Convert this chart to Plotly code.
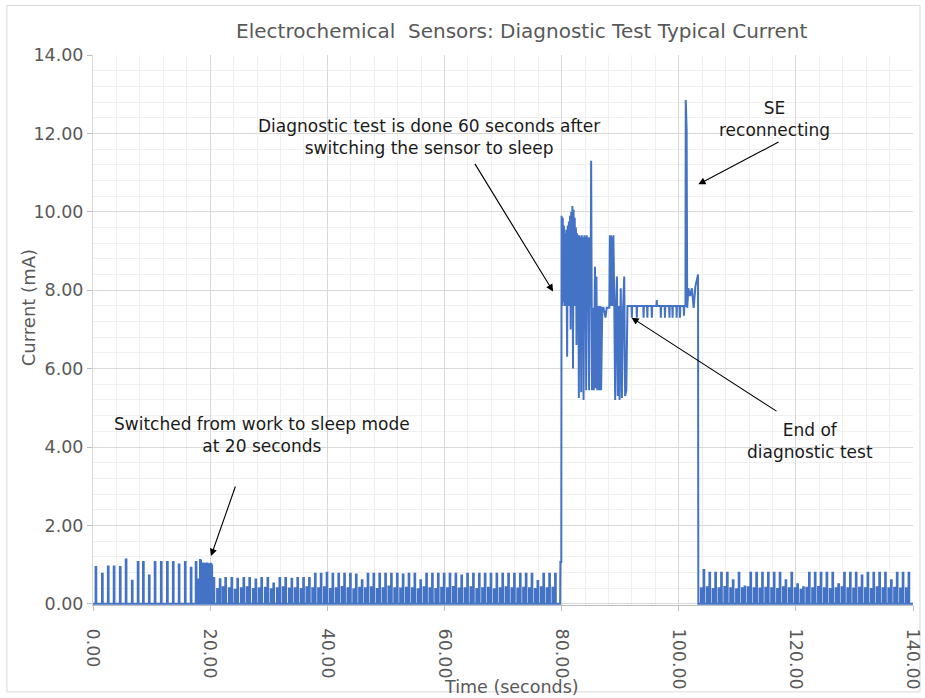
import plotly.graph_objects as go

BLUE = "#4472C4"
GREY = "#595959"
FONT = "DejaVu Sans"

# ---------------- data ----------------
# work mode spikes (0 - 17.5 s)
work_t = [0.5, 1.6, 2.6, 3.6, 4.65, 5.65, 6.7, 7.7, 8.6, 9.6, 10.6, 11.65, 12.7, 13.7, 14.7, 15.75, 16.75, 17.6]
work_h = [0.94, 0.77, 0.95, 0.95, 0.94, 1.13, 0.59, 1.07, 1.07, 0.72, 1.07, 1.07, 1.07, 1.07, 1.0, 1.07, 0.92, 1.07]

# switching burst (17.7 - 20.5 s)
burst_t = [17.8, 17.9, 18.0, 18.1, 18.2, 18.3, 18.4, 18.5, 18.6, 18.7, 18.8, 18.9, 19.0, 19.1,
           19.2, 19.3, 19.4, 19.5, 19.6, 19.7, 19.8, 19.9, 20.0, 20.1, 20.2, 20.3, 20.4]
burst_h = [0.62, 0.6, 0.58, 0.62, 0.6, 1.12, 1.1, 0.95, 1.02, 1.0, 1.03, 0.98, 1.01, 1.0,
           1.02, 0.99, 1.0, 1.03, 1.0, 0.98, 1.01, 1.0, 0.99, 1.02, 1.0, 0.98, 0.6]

# sleep mode pulses before the diagnostic test (tall pulse times, tall and short heights)
sleep1_t = [20.65, 21.7, 22.65, 23.7, 24.7, 25.75, 26.75, 27.8, 28.8, 29.85, 30.85, 31.9, 32.9,
            33.95, 34.95, 35.95, 36.95, 37.95, 38.95, 39.95, 40.95, 41.95, 42.95, 43.95, 44.95,
            45.95, 46.95, 47.95, 48.95, 49.95, 50.95, 51.95, 52.95, 53.95, 54.95, 55.95, 56.95,
            57.95, 58.95, 59.95, 60.95, 61.95, 62.95, 63.95, 64.95, 65.95, 66.95, 67.95, 68.95,
            69.95, 70.95, 71.95, 72.95, 73.95, 74.95, 75.95, 76.95, 77.95, 78.95]
sleep1_tall = [0.66, 0.63, 0.66, 0.66, 0.64, 0.66, 0.66, 0.62, 0.66, 0.66, 0.52, 0.66, 0.66,
               0.64, 0.66, 0.66, 0.66, 0.77,
               0.77, 0.79, 0.77, 0.77, 0.77, 0.77, 0.75, 0.60,
               0.77, 0.77, 0.77, 0.77, 0.77, 0.77, 0.75, 0.77, 0.77, 0.60,
               0.77, 0.77, 0.77, 0.77, 0.77, 0.77, 0.72,
               0.77, 0.77, 0.77, 0.77, 0.77, 0.77, 0.77, 0.77, 0.77, 0.77, 0.77, 0.77,
               0.58, 0.77, 0.77, 0.77]
sleep1_short = [0.40, 0.38, 0.42, 0.40, 0.36, 0.40, 0.42, 0.38, 0.40, 0.41, 0.37, 0.40, 0.42,
                0.39, 0.40, 0.38, 0.42, 0.40, 0.40, 0.42, 0.38, 0.40, 0.43, 0.40, 0.37, 0.41,
                0.40, 0.42, 0.38, 0.40, 0.44, 0.40, 0.39, 0.41, 0.40, 0.37, 0.42, 0.40, 0.38,
                0.41, 0.40, 0.43, 0.39, 0.40, 0.42, 0.38, 0.40, 0.41, 0.37, 0.40, 0.42, 0.40,
                0.39, 0.41, 0.40, 0.38, 0.42, 0.40, 0.41]

# diagnostic test trace (79.7 - 103.3 s)
diag_t = [79.75, 79.8, 79.95, 80.0, 80.1, 80.2, 80.3, 80.4, 80.5, 80.6, 80.7, 80.8, 80.95, 81.05,
          81.15, 81.25, 81.35, 81.45, 81.55, 81.65, 81.75, 81.85, 81.95, 82.05, 82.15, 82.25,
          82.35, 82.45, 82.55, 82.65, 82.75, 82.85, 82.95, 83.05, 83.15, 83.25, 83.35, 83.45,
          83.55, 83.65, 83.75, 83.9, 84.0, 84.1, 84.2, 84.3, 84.4, 84.5, 84.6, 84.7, 84.85,
          84.95, 85.05, 85.1, 85.2,
          85.35, 85.5, 85.7, 85.85, 85.95, 86.1, 86.25, 86.4, 86.6, 86.75, 86.95, 87.15,
          87.5, 87.6, 87.7, 88.15, 88.25, 88.35, 88.45, 88.55, 88.65, 88.75, 88.85,
          89.0, 89.15, 89.3, 89.45, 89.6, 89.75, 89.9,
          90.1, 90.3, 90.5, 90.7, 90.85, 91.05, 91.25, 91.4,
          91.95, 92.0, 92.05, 92.8, 92.85, 92.9, 93.95, 94.0, 94.05, 94.6, 94.65, 94.7,
          95.35, 95.42, 95.47, 96.2, 96.25, 96.3, 96.9, 96.95, 97.0, 97.6, 97.65, 97.7,
          98.35, 98.42, 98.47, 98.9, 98.95, 99.0, 99.6, 99.65, 99.7, 100.15, 100.22, 100.27,
          100.85, 100.9, 100.95, 101.15,
          101.2, 101.35, 101.45, 101.65, 101.95, 102.25, 102.55, 102.85, 103.2, 103.3, 103.35]
diag_y = [0.0, 1.07, 1.07, 9.9, 7.6, 9.85, 7.7, 9.65, 7.6, 9.45, 7.6, 9.55, 6.3, 9.65,
          7.6, 9.75, 7.6, 9.9, 7.0, 10.0, 7.6, 10.15, 6.0, 10.05, 7.6, 9.85,
          7.6, 9.6, 6.6, 9.45, 7.6, 9.4, 5.25, 9.4, 7.6, 9.35, 5.4, 9.4,
          7.6, 9.35, 5.2, 9.4, 7.6, 9.35, 5.45, 9.4, 7.6, 9.35, 7.6, 5.45, 9.35,
          7.6, 11.3, 7.6, 5.45,
          7.55, 5.45, 8.6, 5.5, 8.35, 5.45, 7.6, 5.45, 7.6, 5.45, 7.55, 7.55,
          7.3, 7.55, 7.55, 7.55, 9.4, 7.6, 9.4, 7.6, 9.35, 7.6, 9.4,
          7.6, 5.2, 7.6, 8.35, 5.3, 7.6, 5.2,
          8.05, 5.25, 7.55, 8.35, 5.3, 5.45, 7.6, 7.6,
          7.6, 7.3, 7.6, 7.6, 7.3, 7.6, 7.6, 7.3, 7.6, 7.6, 7.3, 7.6,
          7.6, 7.3, 7.6, 7.6, 7.75, 7.6, 7.6, 7.3, 7.6, 7.6, 7.3, 7.6,
          7.6, 7.3, 7.6, 7.6, 7.3, 7.6, 7.6, 7.3, 7.6, 7.6, 7.3, 7.6,
          7.6, 7.35, 7.6, 7.6,
          12.85, 12.1, 7.55, 8.05, 7.85, 8.05, 7.55, 8.1, 8.4, 8.4, 0.0]

# sleep mode pulses after reconnecting
sleep2_t = [104.3, 105.3, 106.3, 107.3, 108.3, 109.3, 110.3, 111.3, 112.3, 113.3, 114.3, 115.3,
            116.3, 117.3, 118.3, 119.3, 120.3, 121.3, 122.3, 123.3, 124.3, 125.3, 126.3, 127.3,
            128.3, 129.3, 130.3, 131.3, 132.3, 133.3, 134.3, 135.3, 136.3, 137.3, 138.3, 139.3]
sleep2_tall = [0.86, 0.79, 0.79, 0.79, 0.79, 0.60, 0.79, 0.44, 0.79, 0.79, 0.79, 0.79,
               0.79, 0.79, 0.60, 0.79, 0.50, 0.42, 0.79, 0.79, 0.79, 0.79, 0.79, 0.50,
               0.79, 0.79, 0.79, 0.72, 0.79, 0.79, 0.79, 0.79, 0.60, 0.79, 0.79, 0.79]
sleep2_short = [0.40, 0.42, 0.38, 0.40, 0.43, 0.40, 0.37, 0.40, 0.42, 0.40, 0.39, 0.41,
                0.40, 0.38, 0.42, 0.40, 0.40, 0.36, 0.41, 0.40, 0.43, 0.40, 0.38, 0.40,
                0.42, 0.40, 0.39, 0.41, 0.40, 0.38, 0.42, 0.40, 0.40, 0.41, 0.39, 0.40]

x_ticks = [0, 20, 40, 60, 80, 100, 120, 140]
y_ticks = [0, 2, 4, 6, 8, 10, 12, 14]

# ---------------- assemble the line path ----------------
xs, ys = [0.0], [0.0]


def add_spike(t, h, hw=0.06):
    xs.extend([t - hw, t - hw, t + hw, t + hw])
    ys.extend([0.0, h, h, 0.0])


for t, h in zip(work_t, work_h):
    add_spike(t, h)
for t, h in zip(burst_t, burst_h):
    add_spike(t, h, 0.035)
for t, ht, hs in zip(sleep1_t, sleep1_tall, sleep1_short):
    add_spike(t - 0.45, hs)
    add_spike(t, ht)
xs.extend(diag_t)
ys.extend(diag_y)
for t, ht, hs in zip(sleep2_t, sleep2_tall, sleep2_short):
    add_spike(t - 0.45, hs)
    add_spike(t, ht)
xs.append(140.0)
ys.append(0.0)

fig = go.Figure()
fig.add_trace(go.Scatter(x=xs, y=ys, mode="lines",
                         line=dict(color=BLUE, width=2), hoverinfo="skip",
                         showlegend=False))

ann_font = dict(family=FONT, size=17, color="#1a1a1a")
texts = [
    (28.85, 4.31, "Switched from work to sleep mode<br>at 20 seconds"),
    (57.4, 11.9, "Diagnostic test is done 60 seconds after<br>switching the sensor to sleep"),
    (116.3, 12.38, "SE<br>reconnecting"),
    (122.4, 4.15, "End of<br>diagnostic test"),
]
for x, y, txt in texts:
    fig.add_annotation(x=x, y=y, xref="x", yref="y", text=txt, showarrow=False,
                       font=ann_font, align="center")

arrows = [
    ((20.15, 1.22), (24.4, 3.03)),
    ((78.55, 7.97), (65.05, 11.26)),
    ((103.35, 10.7), (117.3, 11.8)),
    ((91.95, 7.3), (116.95, 4.89)),
]
for (hx, hy), (tx, ty) in arrows:
    fig.add_annotation(x=hx, y=hy, ax=tx, ay=ty, xref="x", yref="y", axref="x", ayref="y",
                       text="", showarrow=True, arrowhead=2, arrowsize=1.3,
                       arrowwidth=1.1, arrowcolor="#000000")

# axis titles
fig.add_annotation(x=0.51, y=-0.149, xref="paper", yref="paper", text="Time (seconds)",
                   showarrow=False, font=dict(family=FONT, size=17.5, color=GREY),
                   yanchor="middle")
fig.add_annotation(x=-0.079, y=0.54, xref="paper", yref="paper", text="Current (mA)",
                   textangle=-90, showarrow=False,
                   font=dict(family=FONT, size=18, color=GREY), xanchor="center")

# chart frame
fig.add_shape(type="rect", xref="paper", yref="paper", x0=-0.105, x1=1.0085,
              y0=-0.158, y1=1.09, line=dict(color="#d9d9d9", width=1), layer="below")

fig.update_layout(
    width=925, height=698,
    margin=dict(l=93, r=12, t=55, b=93, autoexpand=False),
    paper_bgcolor="white", plot_bgcolor="white",
    title=dict(text="Electrochemical  Sensors: Diagnostic Test Typical Current",
               x=0.564, xanchor="center", xref="container", yref="container",
               y=0.955, yanchor="middle",
               font=dict(family=FONT, size=20, color=GREY), automargin=False),
    font=dict(family=FONT, color=GREY),
)
fig.update_xaxes(range=[0, 140], tickvals=x_ticks, tickformat=".2f", tickangle=90,
                 tickfont=dict(family=FONT, size=17.5, color=GREY), ticks="outside", ticklen=5,
                 tickcolor="#bfbfbf", ticklabelstandoff=14, automargin=False,
                 ticklabeloverflow="allow",
                 showgrid=True, gridcolor="#d9d9d9", gridwidth=1,
                 minor=dict(dtick=4, tick0=0, showgrid=True, gridcolor="#f0f0f0"),
                 showline=True, linecolor="#bfbfbf", zeroline=False)
fig.update_yaxes(range=[-0.03, 14], tickvals=y_ticks, tickformat=".2f",
                 tickfont=dict(family=FONT, size=17.5, color=GREY), ticks="outside", ticklen=5,
                 tickcolor="#bfbfbf", automargin=False, ticklabeloverflow="allow",
                 showgrid=True, gridcolor="#d9d9d9", gridwidth=1,
                 minor=dict(dtick=0.4, tick0=0, showgrid=True, gridcolor="#f0f0f0"),
                 showline=True, linecolor="#d9d9d9", zeroline=False)

fig.write_html("out.html", config={"displayModeBar": False},
               post_script="document.body.style.margin='0px';document.body.style.overflow='hidden';")
